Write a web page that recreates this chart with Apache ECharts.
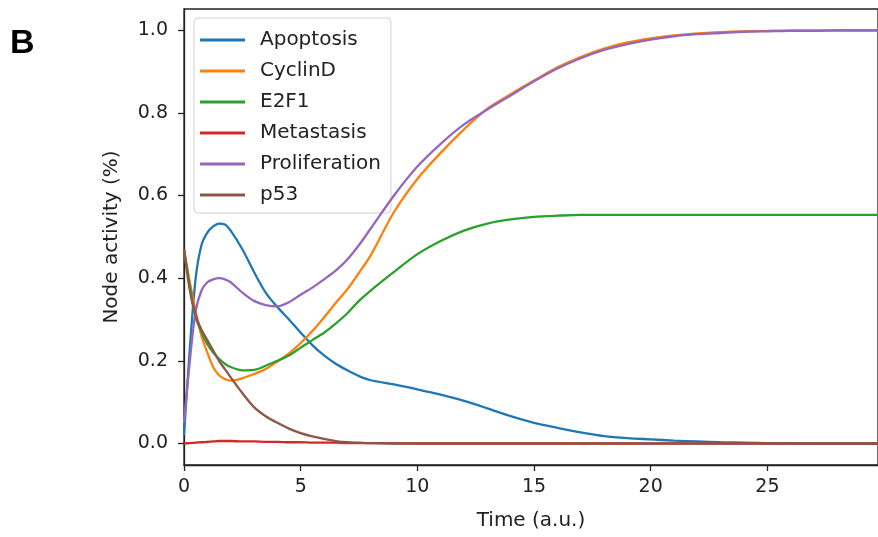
<!DOCTYPE html>
<html>
<head>
<meta charset="utf-8">
<script src="https://cdn.jsdelivr.net/npm/echarts@6/dist/echarts.min.js"></script>
<style>
html,body{margin:0;padding:0;background:#fff;}
#chart{width:878px;height:537px;}
</style>
</head>
<body>
<div id="chart"></div>
<script>
const times = [0,0.25,0.5,0.75,1,1.25,1.5,1.75,2,2.5,3,3.5,4,4.5,5,5.5,6,6.5,7,7.5,8,9,10,11,12,13,14,15,16,17,18,19,20,21,22,23,24,25,26,27,28,29,30];

const apoptosis = [0.02,0.23,0.40,0.48,0.51,0.525,0.532,0.53,0.515,0.47,0.415,0.365,0.33,0.3,0.268,0.238,0.213,0.193,0.177,0.163,0.153,0.143,0.131,0.118,0.103,0.085,0.066,0.05,0.038,0.027,0.018,0.013,0.010,0.007,0.005,0.003,0.002,0.001,0.0005,0,0,0,0];

const cyclinD = [0.47,0.39,0.32,0.26,0.22,0.185,0.165,0.156,0.152,0.158,0.168,0.18,0.198,0.218,0.243,0.272,0.305,0.34,0.373,0.413,0.455,0.56,0.64,0.703,0.76,0.81,0.845,0.878,0.91,0.935,0.955,0.97,0.98,0.987,0.992,0.995,0.997,0.998,0.999,0.999,1.0,1.0,1.0];

const e2f1 = [0.47,0.38,0.305,0.27,0.24,0.22,0.205,0.193,0.185,0.177,0.178,0.188,0.2,0.213,0.232,0.25,0.268,0.29,0.315,0.345,0.37,0.415,0.458,0.49,0.515,0.532,0.542,0.548,0.551,0.553,0.553,0.553,0.553,0.553,0.553,0.553,0.553,0.553,0.553,0.553,0.553,0.553,0.553];

const metastasis = [0.0,0.001,0.002,0.003,0.004,0.005,0.006,0.006,0.006,0.005,0.005,0.004,0.004,0.003,0.003,0.002,0.002,0.002,0.001,0.001,0.001,0.0005,0,0,0,0,0,0,0,0,0,0,0,0,0,0,0,0,0,0,0,0,0];

const proliferation = [0.05,0.2,0.32,0.37,0.39,0.397,0.4,0.397,0.39,0.365,0.345,0.335,0.332,0.342,0.36,0.377,0.397,0.418,0.445,0.48,0.52,0.6,0.67,0.725,0.772,0.808,0.842,0.876,0.907,0.932,0.952,0.966,0.977,0.985,0.99,0.993,0.996,0.997,0.998,0.998,0.999,0.999,0.999];

const p53 = [0.47,0.37,0.31,0.275,0.25,0.225,0.2,0.18,0.16,0.122,0.088,0.066,0.05,0.036,0.025,0.017,0.011,0.006,0.003,0.002,0.001,0,0,0,0,0,0,0,0,0,0,0,0,0,0,0,0,0,0,0,0,0,0];

const seriesNames = ['Apoptosis','CyclinD','E2F1','Metastasis','Proliferation','p53'];
const seriesValues = [apoptosis, cyclinD, e2f1, metastasis, proliferation, p53];
const colors = ['#1f77b4','#ff7f0e','#2ca02c','#d62728','#9467bd','#8c564b'];
const xTicks = [0,5,10,15,20,25];
const yTicks = [0,0.2,0.4,0.6,0.8,1.0];

const chart = echarts.init(document.getElementById('chart'));
const font = 'DejaVu Sans';
chart.setOption({
  animation: false,
  backgroundColor: '#fff',
  graphic: [{
    type: 'text', left: 10, top: 27,
    style: { text: 'B', fontSize: 34, fontWeight: 'bold', fontFamily: 'Liberation Sans, Arial', fill: '#000' }
  }],
  grid: { left: 184, right: 0, top: 9, bottom: 72, show: true, borderColor: '#222', borderWidth: 1.3, backgroundColor: 'transparent' },
  legend: {
    orient: 'vertical', left: 194, top: 18,
    padding: [12, 10, 8, 6],
    icon: 'rect',
    itemWidth: 45, itemHeight: 3, itemGap: 11,
    backgroundColor: 'rgba(255,255,255,0.85)',
    borderColor: '#d0d0d0', borderWidth: 1, borderRadius: 4,
    textStyle: { fontFamily: font, fontSize: 20, color: '#222', lineHeight: 20, padding: [0,0,0,10] },
    data: seriesNames
  },
  xAxis: {
    type: 'value', min: 0, max: 29.74,
    name: 'Time (a.u.)', nameLocation: 'middle', nameGap: 46,
    nameTextStyle: { fontFamily: font, fontSize: 20, color: '#222' },
    splitLine: { show: false },
    axisLine: { onZero: false, lineStyle: { color: '#222', width: 1.3 } },
    axisTick: { customValues: xTicks, length: 6, lineStyle: { color: '#222', width: 1.3 } },
    axisLabel: { customValues: xTicks, margin: 13, fontFamily: font, fontSize: 19, color: '#222' }
  },
  yAxis: {
    type: 'value', min: -0.052, max: 1.051,
    name: 'Node activity (%)', nameLocation: 'middle', nameGap: 62, nameRotate: 90,
    nameTextStyle: { fontFamily: font, fontSize: 20, color: '#222' },
    splitLine: { show: false },
    axisLine: { show: true, onZero: false, lineStyle: { color: '#222', width: 1.3 } },
    axisTick: { show: true, customValues: yTicks, length: 6, lineStyle: { color: '#222', width: 1.3 } },
    axisLabel: { customValues: yTicks, margin: 16, fontFamily: font, fontSize: 19, color: '#222',
      formatter: v => v.toFixed(1) }
  },
  series: seriesNames.map((n, i) => ({
    name: n, type: 'line', symbol: 'none', smooth: 0.3,
    color: colors[i],
    lineStyle: { width: 2.3, color: colors[i] },
    data: times.map((t, j) => [t, seriesValues[i][j]]),
    z: 2 + i
  }))
});
</script>
</body>
</html>
